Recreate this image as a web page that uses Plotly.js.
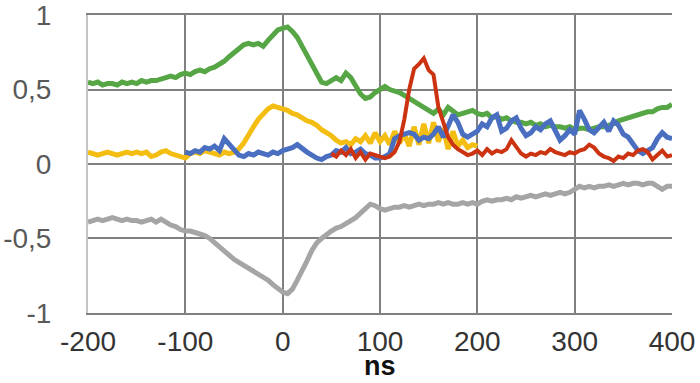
<!DOCTYPE html>
<html>
<head>
<meta charset="utf-8">
<script src="https://cdn.plot.ly/plotly-3.0.1.min.js"></script>
<style>html,body{margin:0;padding:0;background:#fff;}#chart{width:700px;height:383px;}</style>
</head>
<body>
<div id="chart"></div>
<script>
// Sample times (ns), 5 ns step
function times(start, end) { var a = []; for (var t = start; t <= end; t += 5) a.push(t); return a; }

var greenX = times(-200, 400);
var greenY = [0.55,0.54,0.55,0.53,0.54,0.54,0.53,0.55,0.54,0.55,0.54,0.56,0.55,0.56,0.56,0.57,0.58,0.59,0.58,0.60,
0.61,0.60,0.62,0.63,0.62,0.64,0.65,0.67,0.69,0.72,0.75,0.77,0.80,0.81,0.80,0.81,0.79,0.83,0.87,0.90,
0.91,0.92,0.89,0.85,0.79,0.73,0.66,0.60,0.55,0.54,0.56,0.58,0.56,0.61,0.58,0.53,0.47,0.44,0.45,0.48,
0.50,0.52,0.50,0.49,0.48,0.46,0.44,0.42,0.40,0.38,0.36,0.34,0.37,0.33,0.38,0.35,0.33,0.34,0.35,0.36,
0.34,0.33,0.34,0.31,0.32,0.30,0.31,0.29,0.28,0.28,0.27,0.28,0.26,0.27,0.25,0.26,0.25,0.25,0.24,0.25,
0.23,0.24,0.24,0.23,0.24,0.25,0.25,0.26,0.27,0.29,0.30,0.31,0.32,0.33,0.34,0.35,0.35,0.37,0.38,0.38,0.40];

var yellowX = times(-200, 200);
var yellowY = [0.08,0.07,0.06,0.07,0.08,0.07,0.06,0.07,0.08,0.07,0.08,0.07,0.08,0.05,0.06,0.08,0.09,0.07,0.06,0.05,
0.04,0.07,0.08,0.07,0.09,0.08,0.07,0.06,0.08,0.07,0.08,0.10,0.14,0.20,0.25,0.30,0.34,0.37,0.39,0.38,
0.37,0.36,0.34,0.33,0.31,0.29,0.28,0.26,0.23,0.21,0.19,0.16,0.14,0.15,0.13,0.17,0.15,0.19,0.14,0.21,
0.15,0.19,0.13,0.22,0.14,0.20,0.12,0.25,0.13,0.27,0.14,0.28,0.15,0.24,0.10,0.22,0.12,0.16,0.11,0.13,0.12];

var blueX = times(-100, 400);
var blueY = [0.08,0.07,0.09,0.08,0.11,0.10,0.12,0.09,0.17,0.13,0.10,0.06,0.05,0.07,0.06,0.08,0.07,0.06,0.08,0.07,
0.09,0.10,0.11,0.13,0.10,0.08,0.06,0.04,0.03,0.05,0.06,0.09,0.08,0.11,0.07,0.08,0.10,0.07,0.06,0.04,
0.04,0.05,0.07,0.17,0.19,0.20,0.21,0.20,0.16,0.18,0.17,0.20,0.25,0.18,0.26,0.33,0.28,0.20,0.18,0.20,
0.22,0.27,0.25,0.31,0.33,0.22,0.24,0.29,0.31,0.24,0.19,0.21,0.25,0.23,0.27,0.29,0.22,0.16,0.19,0.23,
0.20,0.36,0.30,0.23,0.21,0.24,0.28,0.22,0.29,0.26,0.20,0.18,0.13,0.09,0.07,0.09,0.11,0.17,0.21,0.18,0.17];

var redX = times(50, 400);
var redY = [0.07,0.05,0.09,0.06,0.10,0.04,0.08,0.03,0.07,0.06,0.05,0.04,0.05,0.08,0.15,0.30,0.50,0.64,0.67,0.71,
0.63,0.60,0.38,0.27,0.18,0.13,0.10,0.08,0.06,0.07,0.09,0.06,0.10,0.07,0.09,0.08,0.10,0.16,0.11,0.07,
0.05,0.07,0.06,0.08,0.07,0.10,0.08,0.07,0.06,0.08,0.07,0.09,0.10,0.13,0.11,0.07,0.05,0.04,0.02,0.05,
0.04,0.07,0.06,0.09,0.10,0.08,0.03,0.06,0.09,0.05,0.06];

var grayX = times(-200, 400);
var grayY = [-0.39,-0.38,-0.37,-0.38,-0.37,-0.36,-0.37,-0.38,-0.37,-0.38,-0.38,-0.39,-0.38,-0.37,-0.39,-0.37,-0.39,-0.41,-0.42,-0.44,
-0.45,-0.45,-0.46,-0.47,-0.48,-0.50,-0.53,-0.56,-0.59,-0.62,-0.64,-0.66,-0.68,-0.70,-0.72,-0.74,-0.76,-0.78,-0.81,-0.84,
-0.86,-0.87,-0.84,-0.78,-0.72,-0.65,-0.58,-0.53,-0.50,-0.47,-0.45,-0.43,-0.42,-0.40,-0.38,-0.36,-0.33,-0.30,-0.27,-0.28,
-0.30,-0.31,-0.30,-0.29,-0.29,-0.28,-0.29,-0.28,-0.27,-0.28,-0.27,-0.27,-0.26,-0.27,-0.26,-0.27,-0.27,-0.26,-0.27,-0.26,
-0.27,-0.25,-0.24,-0.25,-0.24,-0.24,-0.23,-0.24,-0.22,-0.23,-0.22,-0.21,-0.22,-0.21,-0.20,-0.21,-0.20,-0.19,-0.20,-0.19,
-0.17,-0.15,-0.16,-0.15,-0.16,-0.15,-0.15,-0.14,-0.15,-0.14,-0.13,-0.14,-0.13,-0.13,-0.14,-0.13,-0.13,-0.15,-0.17,-0.15,-0.15];

var xTickVals = [-200, -100, 0, 100, 200, 300, 400];
var xTickText = ['-200', '-100', '0', '100', '200', '300', '400'];
var yTickVals = [-1, -0.5, 0, 0.5, 1];
var yTickText = ['-1', '-0,5', '0', '0,5', '1'];
var xTitle = 'ns';

function line(x, y, color, w) {
  return { x: x, y: y, type: 'scatter', mode: 'lines', line: { color: color, width: w }, hoverinfo: 'skip' };
}

var data = [
  line(grayX, grayY, '#a5a5a5', 5),
  line(greenX, greenY, '#56a646', 5),
  line(yellowX, yellowY, '#f4bd12', 5),
  line(blueX, blueY, '#4a6fc0', 5),
  line(redX, redY, '#cc3311', 4)
];

var layout = {
  width: 700, height: 383,
  margin: { l: 88, r: 28, t: 15, b: 70 },
  paper_bgcolor: '#ffffff', plot_bgcolor: '#ffffff',
  showlegend: false,
  xaxis: {
    range: [-200, 400], tickvals: xTickVals, ticktext: xTickText,
    showgrid: true, gridcolor: '#808080', gridwidth: 2, zeroline: false,
    showline: true, linecolor: '#808080', linewidth: 2, mirror: true,
    ticks: '', ticklabelstandoff: 2, ticklabeloverflow: 'allow',
    tickfont: { family: 'Liberation Sans, Arial, sans-serif', size: 28, color: '#333333' }
  },
  yaxis: {
    range: [-1.0004, 1.0004], tickvals: yTickVals, ticktext: yTickText,
    showgrid: true, gridcolor: '#808080', gridwidth: 2, zeroline: false,
    showline: true, linecolor: '#c4c4c4', linewidth: 2,
    ticks: '', ticklabelstandoff: 29, ticklabeloverflow: 'allow',
    tickfont: { family: 'Liberation Sans, Arial, sans-serif', size: 28, color: '#595959' }
  },
  annotations: [{
    text: '<b>' + xTitle + '</b>', xref: 'paper', yref: 'paper', x: 0.5, y: -0.178,
    xanchor: 'center', yanchor: 'middle', showarrow: false, borderpad: 0,
    font: { family: 'Liberation Sans, Arial, sans-serif', size: 27, color: '#111111' }
  }]
};

Plotly.newPlot('chart', data, layout, { displayModeBar: false, staticPlot: true });
</script>
</body>
</html>
